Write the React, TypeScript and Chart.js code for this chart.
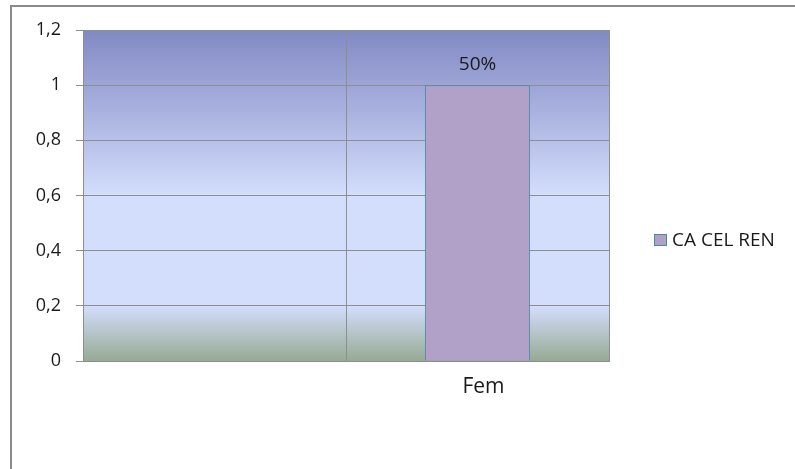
import React, { useEffect, useRef } from "react";
import { Chart, registerables } from "chart.js";

Chart.register(...registerables);

const categories: string[] = ["", "Fem"];
const seriesName = "CA CEL REN";
const seriesValues: (number | null)[] = [null, 1];
const dataLabels: string[] = ["", "50%"];
const yTickLabels: string[] = ["0", "0,2", "0,4", "0,6", "0,8", "1", "1,2"];

const FONT = "'Open Sans', sans-serif";
const TEXT = "#1a1a1a";
const GRID = "#8e8e8e";
const BAR_FILL = "#b1a0c7";
const BAR_EDGE = "#4a8aa0";

const bgPlugin = {
  id: "bgPlugin",
  beforeDraw(chart: any) {
    const { ctx, chartArea } = chart;
    ctx.save();
    ctx.fillStyle = "#ffffff";
    ctx.fillRect(0, 0, chart.width, chart.height);
    ctx.strokeStyle = "#8a8a8a";
    ctx.lineWidth = 2;
    ctx.beginPath();
    ctx.moveTo(11, chart.height + 5);
    ctx.lineTo(11, 6);
    ctx.lineTo(chart.width + 5, 6);
    ctx.stroke();
    const { left, top, right, bottom } = chartArea;
    const g = ctx.createLinearGradient(0, top, 0, bottom);
    g.addColorStop(0, "#8189c3");
    g.addColorStop(0.5, "#d3ddfc");
    g.addColorStop(0.835, "#d3ddfc");
    g.addColorStop(1, "#97aa94");
    ctx.fillStyle = g;
    ctx.fillRect(left, top, right - left, bottom - top);
    ctx.restore();
  },
};

const labelPlugin = {
  id: "labelPlugin",
  afterDatasetsDraw(chart: any) {
    const { ctx } = chart;
    const meta = chart.getDatasetMeta(0);
    ctx.save();
    ctx.font = `19px ${FONT}`;
    ctx.fillStyle = TEXT;
    ctx.textAlign = "center";
    ctx.textBaseline = "alphabetic";
    meta.data.forEach((el: any, i: number) => {
      const txt = dataLabels[i];
      if (!txt || seriesValues[i] == null) return;
      ctx.fillText(txt, el.x, el.y - 15);
    });
    ctx.restore();
  },
};

const legendPlugin = {
  id: "legendPlugin",
  afterDraw(chart: any) {
    const { ctx } = chart;
    ctx.save();
    ctx.fillStyle = BAR_FILL;
    ctx.fillRect(654.5, 234.5, 12, 11);
    ctx.strokeStyle = BAR_EDGE;
    ctx.lineWidth = 1;
    ctx.strokeRect(654.5, 234.5, 12, 11);
    ctx.font = `19px ${FONT}`;
    ctx.fillStyle = TEXT;
    ctx.textAlign = "left";
    ctx.textBaseline = "middle";
    ctx.fillText(seriesName, 672, 240.5);
    ctx.restore();
  },
};

export default function App() {
  const ref = useRef<HTMLCanvasElement | null>(null);
  useEffect(() => {
    if (!ref.current) return;
    const chart = new Chart(ref.current, {
      type: "bar",
      data: {
        labels: categories,
        datasets: [
          {
            label: seriesName,
            data: seriesValues as any,
            backgroundColor: BAR_FILL,
            borderColor: BAR_EDGE,
            borderWidth: 1,
            barPercentage: 0.4,
            categoryPercentage: 1,
          },
        ],
      },
      options: {
        responsive: false,
        animation: false,
        devicePixelRatio: 1,
        layout: { padding: { left: 0, top: 30, right: 186, bottom: 0 } },
        plugins: {
          legend: { display: false },
          tooltip: { enabled: false },
          title: { display: false },
        },
        scales: {
          x: {
            afterFit: (s: any) => {
              s.height = 108;
            },
            grid: {
              offset: true,
              color: GRID,
              drawTicks: false,
              lineWidth: 1,
            },
            border: { display: true, color: GRID },
            ticks: {
              color: TEXT,
              font: { family: FONT, size: 21 },
              padding: 13,
              labelOffset: 6,
            },
          },
          y: {
            min: 0,
            max: 1.2,
            afterFit: (s: any) => {
              s.width = 83;
            },
            grid: {
              color: GRID,
              tickLength: 7,
              lineWidth: 1,
            },
            border: { display: true, color: GRID },
            ticks: {
              stepSize: 0.2,
              color: TEXT,
              font: { family: FONT, size: 18 },
              padding: 15,
              callback: (_v: any, i: number) => yTickLabels[i],
            },
          },
        },
      },
      plugins: [bgPlugin, labelPlugin, legendPlugin],
    });
    return () => chart.destroy();
  }, []);
  return (
    <div style={{ position: "absolute", left: 0, top: 0, width: 795, height: 469 }}>
      <canvas ref={ref} width={795} height={469} style={{ display: "block" }} />
    </div>
  );
}
